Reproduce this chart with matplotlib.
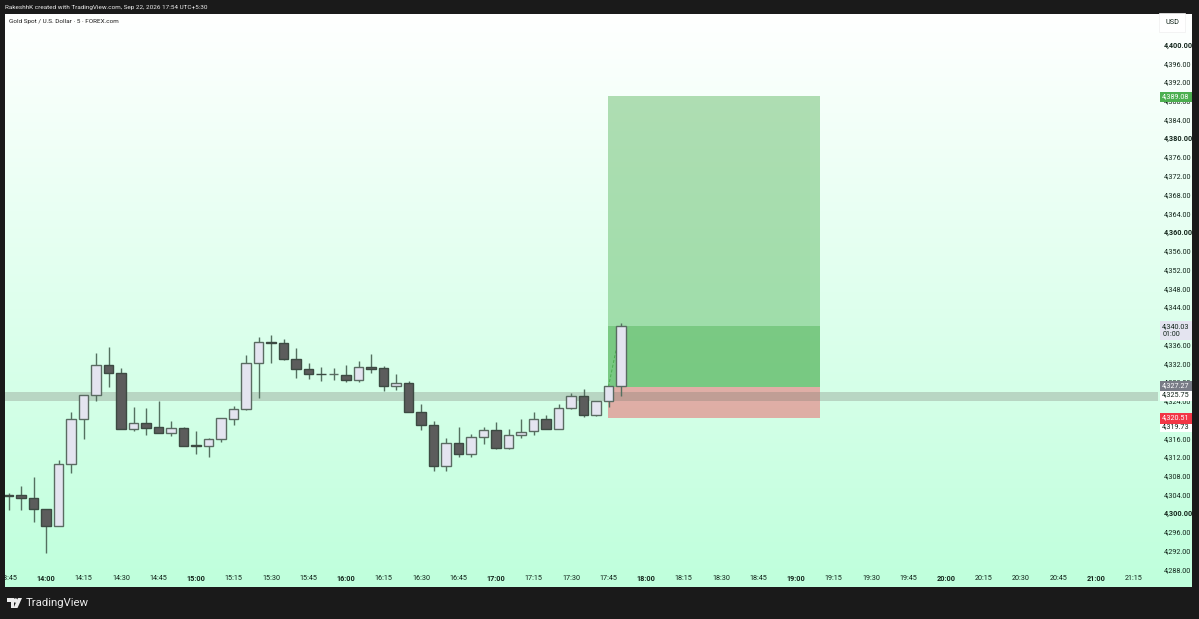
import numpy as np
import matplotlib
matplotlib.use("Agg")
import matplotlib.pyplot as plt
from matplotlib.patches import Polygon

plt.rcParams["font.family"] = ["Roboto", "DejaVu Sans"]

# 5 minute bars, first one at 13:45
first_bar = 13 * 60 + 45
opens = [4303.82, 4303.82, 4303.25, 4300.90, 4297.28, 4310.57, 4320.18, 4325.15, 4331.69, 4329.99,
         4318.04, 4319.32, 4318.33, 4317.05, 4318.11, 4314.49, 4314.27, 4315.84, 4320.18, 4322.24,
         4331.98, 4336.53, 4336.25, 4332.83, 4330.77, 4329.77, 4329.77, 4329.56, 4328.42, 4331.13,
         4330.91, 4327.21, 4327.78, 4321.60, 4318.82, 4310.15, 4315.05, 4312.64, 4316.33, 4317.69,
         4313.85, 4316.69, 4317.47, 4320.18, 4317.97, 4322.52, 4325.01, 4321.03, 4323.87, 4327.10]
closes = [4303.68, 4303.25, 4300.90, 4297.28, 4310.57, 4320.18, 4325.15, 4331.69, 4329.99, 4318.04,
          4319.32, 4318.25, 4317.05, 4318.11, 4314.41, 4314.45, 4315.91, 4320.25, 4322.31, 4331.98,
          4336.53, 4336.25, 4332.83, 4330.77, 4329.77, 4329.70, 4329.80, 4328.42, 4331.13, 4330.84,
          4327.21, 4327.85, 4321.60, 4318.82, 4310.15, 4315.05, 4312.64, 4316.33, 4317.69, 4313.85,
          4316.76, 4317.40, 4320.18, 4317.97, 4322.52, 4325.01, 4321.03, 4323.87, 4327.07, 4339.95]
highs = [4304.25, 4305.81, 4307.80, 4300.90, 4311.29, 4321.60, 4325.29, 4334.11, 4335.39, 4330.98,
         4322.73, 4322.45, 4323.87, 4319.61, 4318.33, 4317.54, 4316.12, 4320.39, 4322.95, 4333.69,
         4337.67, 4338.02, 4337.10, 4335.18, 4332.12, 4331.27, 4330.91, 4331.62, 4332.41, 4333.97,
         4331.34, 4329.70, 4328.21, 4323.30, 4319.61, 4316.12, 4318.33, 4316.97, 4318.33, 4319.46,
         4318.04, 4320.03, 4321.60, 4320.96, 4323.23, 4325.72, 4326.57, 4324.00, 4327.07, 4340.48]
lows = [4300.69, 4300.69, 4298.13, 4291.59, 4297.21, 4308.65, 4315.84, 4324.01, 4327.00, 4318.04,
        4317.62, 4316.69, 4317.05, 4316.41, 4314.27, 4312.57, 4312.00, 4315.27, 4318.82, 4322.02,
        4324.58, 4331.98, 4332.69, 4328.92, 4328.57, 4328.28, 4328.42, 4328.00, 4328.00, 4329.85,
        4326.01, 4326.29, 4321.60, 4317.83, 4308.94, 4309.08, 4312.00, 4312.00, 4314.70, 4313.70,
        4313.70, 4316.12, 4316.69, 4317.90, 4317.90, 4322.17, 4320.46, 4320.74, 4322.73, 4325.00]

price_ticks = list(range(4288, 4404, 4))
hidden_prices = [4340, 4320]  # fully behind the tags
time_ticks = [13 * 60 + 45 + 15 * i for i in range(31)]

tp_price = 4389.08
entry_price = 4327.0
stop_price = 4320.35
last_price = 4339.95
band_low, band_high = 4323.95, 4325.80

bg = "#1a1a1a"
text_col = "#12241a"
fig = plt.figure(figsize=(11.99, 6.19), dpi=100, facecolor=bg)
ax = fig.add_axes([5 / 1199, 32 / 619, 1187 / 1199, 573 / 619])

# background fade, white at the top to mint at the bottom
grad = np.linspace(0, 1, 256)[:, None]
top, bottom = np.array([255, 255, 255]) / 255, np.array([191, 255, 220]) / 255
img = top + (bottom - top) * grad[..., None]
ax.imshow(img, extent=(0, 1, 0, 1), transform=ax.transAxes, aspect="auto", zorder=0)

# position box
ax.fill_between([1064.6, 1149.6], entry_price, tp_price, color="#4caf50", alpha=0.42, lw=0, zorder=1)
ax.fill_between([1064.6, 1149.6], entry_price, last_price, color="#3aa63f", alpha=0.36, lw=0, zorder=1.1)
ax.fill_between([1064.6, 1149.6], stop_price, entry_price, color="#f23645", alpha=0.40, lw=0, zorder=1)

# grey zone
ax.fill_between([800, 1284.8], band_low, band_high, color="#7a7a70", alpha=0.30, lw=0, zorder=1.5)

bars = np.arange(len(closes))
x = first_bar + bars * 5
o, h, l, c = map(np.array, (opens, highs, lows, closes))
up = c >= o

ax.vlines(x, l, h, color="#547060", lw=1.0, zorder=2)
ax.bar(x[up], (c - o)[up], bottom=o[up], width=3.8, color="#e4e4f0",
       edgecolor="#5a6b62", linewidth=1.0, zorder=3)
ax.bar(x[~up], (c - o)[~up], bottom=o[~up], width=3.8, color="#5c5c5c",
       edgecolor="#3c4a42", linewidth=1.0, zorder=3)

# dashed link from entry to the breakout bar
ax.plot([1065, 1068], [4327.0, 4334.8], color="#4caf50", lw=0.7, ls=(0, (3, 2)), zorder=2.5)

ax.set_xlim(823.6, 1298.4)
ax.set_ylim(4284.27, 4406.5)
for s in ax.spines.values():
    s.set_visible(False)

# price scale
ax.yaxis.tick_right()
ax.set_yticks(price_ticks)
ax.set_yticklabels(["" if p in hidden_prices else f"{p:,.2f}" for p in price_ticks],
                   fontsize=5.2, color=text_col, ha="left")
ax.tick_params(axis="y", length=0, pad=-20.6)
for p, lab in zip(price_ticks, ax.get_yticklabels()):
    if p % 20 == 0:
        lab.set_fontweight("bold")

# time scale
ax.set_xticks(time_ticks)
ax.set_xticklabels([f"{t // 60}:{t % 60:02d}" for t in time_ticks], fontsize=5.2, color=text_col)
ax.tick_params(axis="x", length=0, pad=-8.5)
for t, lab in zip(time_ticks, ax.get_xticklabels()):
    lab.set_clip_on(True)
    lab.set_clip_box(ax.bbox)
    if t % 60 == 0:
        lab.set_fontweight("bold")


def price_tag(y, text, face, color):
    ax.text(1286.5, y, text, fontsize=5.2, color=color, va="center", ha="left", zorder=6,
            bbox=dict(facecolor=face, edgecolor="none", pad=1.4))


price_tag(4388.8, "4,389.08", "#4caf50", "#ffffff")
price_tag(4325.2, "4,325.75", "#ffffff", text_col)
price_tag(4318.5, "4,319.73", "#ffffff", text_col)
price_tag(4327.15, "4,327.27", "#787b86", "#ffffff")
price_tag(4320.3, "4,320.51", "#f23645", "#ffffff")
ax.text(1286.5, 4339.0, "4,340.03\n01:00", fontsize=5.2, color=text_col, va="center", ha="left",
        linespacing=1.1, zorder=6, bbox=dict(facecolor="#e4e4f0", edgecolor="none", pad=1.4))

# USD box, header and footer live in figure pixels
over = fig.add_axes([0, 0, 1, 1], facecolor="none")
over.set_xlim(0, 1199)
over.set_ylim(619, 0)
over.axis("off")
over.text(1172, 22.5, "USD", fontsize=5.2, color=text_col, ha="center", va="center",
          bbox=dict(facecolor="#ffffff", edgecolor="#efefef", linewidth=0.5,
                    boxstyle="square,pad=0.8"))
over.text(5, 7.5, "RakeshhK created with TradingView.com, Sep 22, 2026 17:54 UTC+5:30",
          fontsize=4.55, color="#ececec", va="center")
over.text(9, 21.5, "Gold Spot / U.S. Dollar · 5 · FOREX.com", fontsize=4.6, color="#1c1c1c", va="center")

# logo
logo = "#ececec"
over.add_patch(Polygon([(7, 598), (14, 598), (14, 608), (10.5, 608), (10.5, 601.5), (7, 601.5)],
                       color=logo, lw=0))
over.add_patch(Polygon([(18, 598), (22, 598), (17.5, 608), (13.5, 608)], color=logo, lw=0))
over.plot([15.4], [599.7], "o", ms=3.2, color=logo, mew=0)
over.text(26, 603.5, "TradingView", fontsize=8.2, color=logo, va="center")

fig.savefig("out.png", dpi=100, facecolor=bg)
